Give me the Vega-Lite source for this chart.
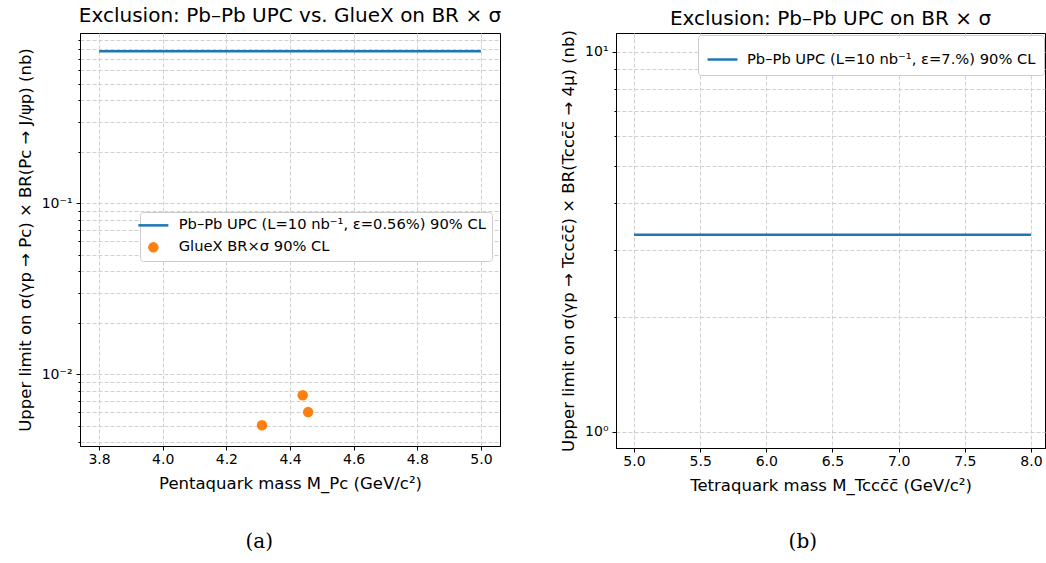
{
  "$schema": "https://vega.github.io/schema/vega-lite/v6.json",
  "background": "white",
  "padding": {"left": 16, "top": 5, "right": 2, "bottom": 4},
  "spacing": 58,
  "resolve": {"scale": {"color": "independent"}, "legend": {"color": "independent"}},
  "config": {
    "font": "DejaVu Sans",
    "view": {"stroke": "black", "strokeWidth": 1},
    "axis": {
      "labelFont": "DejaVu Sans", "labelFontSize": 14, "labelColor": "black",
      "titleFont": "DejaVu Sans", "titleFontSize": 16.5, "titleFontWeight": "normal", "titleColor": "black",
      "domainColor": "black", "tickColor": "black", "gridColor": "#d0d0d0", "gridDash": [4, 2], "gridWidth": 1,
      "labelPadding": 4, "labelOverlap": false
    },
    "axisX": {"labelPadding": 2},
    "title": {"font": "DejaVu Sans", "fontSize": 20, "fontWeight": "normal", "color": "black"},
    "legend": {"labelFont": "DejaVu Sans", "labelFontSize": 14.7, "labelColor": "black", "labelLimit": 500, "strokeColor": "#cccccc", "fillColor": "white", "cornerRadius": 3}
  },
  "datasets": {
    "upcA": [
      {"m": 3.8, "v": 0.774, "s": "Pb–Pb UPC (L=10 nb⁻¹, ε=0.56%) 90% CL"},
      {"m": 5.0, "v": 0.774, "s": "Pb–Pb UPC (L=10 nb⁻¹, ε=0.56%) 90% CL"}
    ],
    "gluex": [
      {"m": 4.312, "v": 0.00503, "s": "GlueX BR×σ 90% CL"},
      {"m": 4.440, "v": 0.00753, "s": "GlueX BR×σ 90% CL"},
      {"m": 4.457, "v": 0.0060, "s": "GlueX BR×σ 90% CL"}
    ],
    "upcB": [
      {"m": 5.0, "v": 3.30, "s": "Pb–Pb UPC (L=10 nb⁻¹, ε=7.%) 90% CL"},
      {"m": 8.0, "v": 3.30, "s": "Pb–Pb UPC (L=10 nb⁻¹, ε=7.%) 90% CL"}
    ]
  },
  "hconcat": [
    {
      "title": {"text": "(a)", "orient": "bottom", "font": "DejaVu Serif", "fontSize": 20, "offset": 40, "anchor": "middle"},
      "vconcat": [
        {
          "width": 420,
          "height": 413,
          "title": {"text": "Exclusion: Pb–Pb UPC vs. GlueX on BR × σ", "offset": 7},
          "layer": [
            {
              "data": {"name": "upcA"},
              "mark": {"type": "line", "strokeWidth": 2.5},
              "encoding": {
                "x": {
                  "field": "m", "type": "quantitative",
                  "scale": {"domain": [3.74, 5.06], "nice": false, "zero": false},
                  "axis": {"values": [3.8, 4.0, 4.2, 4.4, 4.6, 4.8, 5.0], "format": ".1f", "tickSize": 4, "title": "Pentaquark mass M_Pc (GeV/c²)", "titlePadding": 9}
                },
                "y": {
                  "field": "v", "type": "quantitative",
                  "scale": {"type": "log", "domain": [0.0038, 0.99], "nice": false},
                  "axis": {
                    "values": [0.004, 0.005, 0.006, 0.007, 0.008, 0.009, 0.01, 0.02, 0.03, 0.04, 0.05, 0.06, 0.07, 0.08, 0.09, 0.1, 0.2, 0.3, 0.4, 0.5, 0.6, 0.7, 0.8, 0.9],
                    "labelExpr": "abs(log(datum.value)/LN10 - round(log(datum.value)/LN10)) < 1e-6 ? (round(log(datum.value)/LN10) == -1 ? '10⁻¹' : '10⁻²') : ''",
                    "tickSize": {"condition": {"test": "abs(log(datum.value)/LN10 - round(log(datum.value)/LN10)) < 1e-6", "value": 4}, "value": 2},
                    "title": "Upper limit on σ(γp → Pc) × BR(Pc → J/ψp) (nb)",
                    "titlePadding": 8
                  }
                },
                "color": {
                  "field": "s", "type": "nominal",
                  "scale": {"domain": ["Pb–Pb UPC (L=10 nb⁻¹, ε=0.56%) 90% CL", "GlueX BR×σ 90% CL"], "range": ["#1f77b4", "#ff7f0e"]},
                  "legend": {
                    "orient": "none", "legendX": 60, "legendY": 179, "title": null,
                    "padding": 6, "symbolSize": 900, "labelOffset": 18, "rowPadding": 6,
                    "encode": {
                      "symbols": {
                        "update": {
                          "shape": {"signal": "datum.value == 'GlueX BR×σ 90% CL' ? 'circle' : 'stroke'"},
                          "size": {"signal": "datum.value == 'GlueX BR×σ 90% CL' ? 110 : 900"},
                          "fill": {"signal": "datum.value == 'GlueX BR×σ 90% CL' ? '#ff7f0e' : 'transparent'"},
                          "stroke": {"value": "#1f77b4"},
                          "strokeWidth": {"signal": "datum.value == 'GlueX BR×σ 90% CL' ? 0 : 2.5"},
                          "opacity": {"value": 1}
                        }
                      }
                    }
                  }
                }
              }
            },
            {
              "data": {"name": "gluex"},
              "mark": {"type": "point", "filled": true, "size": 110, "opacity": 1},
              "encoding": {
                "x": {"field": "m", "type": "quantitative"},
                "y": {"field": "v", "type": "quantitative"},
                "color": {"field": "s", "type": "nominal"}
              }
            }
          ]
        }
      ]
    },
    {
      "title": {"text": "(b)", "orient": "bottom", "font": "DejaVu Serif", "fontSize": 20, "offset": 38, "anchor": "middle"},
      "vconcat": [
        {
          "width": 429,
          "height": 415,
          "title": {"text": "Exclusion: Pb–Pb UPC on BR × σ", "offset": 1},
          "data": {"name": "upcB"},
          "mark": {"type": "line", "strokeWidth": 2.5},
          "encoding": {
            "x": {
              "field": "m", "type": "quantitative",
              "scale": {"domain": [4.864, 8.106], "nice": false, "zero": false},
              "axis": {"values": [5.0, 5.5, 6.0, 6.5, 7.0, 7.5, 8.0], "format": ".1f", "tickSize": 4, "title": "Tetraquark mass M_Tccc̄c̄ (GeV/c²)", "titlePadding": 9}
            },
            "y": {
              "field": "v", "type": "quantitative",
              "scale": {"type": "log", "domain": [0.907, 11.2], "nice": false},
              "axis": {
                "values": [1, 2, 3, 4, 5, 6, 7, 8, 9, 10],
                "labelExpr": "datum.value == 1 ? '10⁰' : datum.value == 10 ? '10¹' : ''",
                "tickSize": {"condition": {"test": "datum.value == 1 || datum.value == 10", "value": 4}, "value": 2},
                "title": "Upper limit on σ(γp → Tccc̄c̄) × BR(Tccc̄c̄ → 4μ) (nb)",
                "titlePadding": 8
              }
            },
            "color": {
              "field": "s", "type": "nominal",
              "scale": {"range": ["#1f77b4"]},
              "legend": {"orient": "none", "legendX": 82, "legendY": 2, "title": null, "padding": 8, "symbolSize": 900, "symbolStrokeWidth": 2.5, "labelOffset": 8}
            }
          }
        }
      ]
    }
  ]
}
